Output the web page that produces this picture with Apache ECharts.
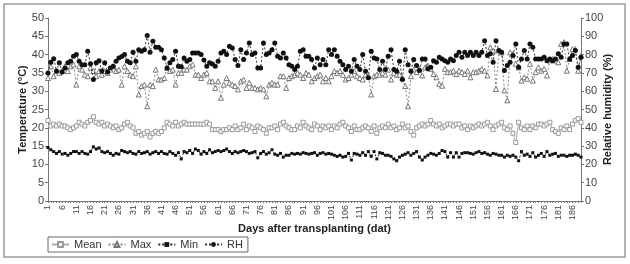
<!DOCTYPE html>
<html>
<head>
<meta charset="utf-8">
<script src="https://cdn.jsdelivr.net/npm/echarts@6/dist/echarts.min.js"></script>
<style>
    html, body { margin: 0; padding: 0; background: #fff; }
    #chart { width: 630px; height: 264px; }
</style>
</head>
<body>
<div id="chart"></div>
<script>
// days after transplanting
const days = Array.from({ length: 189 }, (_, i) => String(i + 1));

// mean temperature (°C)
const meanTemp = [
    22, 20.5, 21, 20.5, 21, 20.5, 20.5, 20, 19.5, 20,
    20.5, 21.5, 21, 20.5, 21.5, 22, 23, 21.5, 21, 21.5,
    20.5, 21, 20.5, 20, 20.5, 19.5, 20, 21, 21.5, 20.5,
    20, 18.5, 19, 18, 18.5, 19, 17.5, 18.5, 19, 18.5,
    19, 20, 21.5, 21, 20.5, 21.5, 20.5, 21, 21.5, 21,
    21, 21, 21, 21, 21, 21, 21.5, 21, 19.5, 19.5,
    19.5, 19, 19.5, 19.5, 20, 19.5, 20.5, 19.5, 20, 21,
    19.5, 20.5, 20, 19, 20.5, 20, 19.5, 18.5, 20, 20,
    20.5, 19.5, 21, 21.5, 20.5, 20, 19.5, 19.5, 20.5, 20,
    21.5, 20.5, 20, 19.5, 21, 20.5, 19.5, 20.5, 20, 20.5,
    19.5, 20.5, 20, 21, 21.5, 20.5, 20, 19, 20.5, 19.5,
    19.5, 20, 20.5, 20, 19, 20.5, 18.5, 20, 20.5, 20,
    21, 20, 20.5, 19.5, 20, 21, 20, 20.5, 19, 18,
    20, 20.5, 21, 20.5, 21, 22, 21, 20.5, 21, 20,
    20.5, 21, 21, 20.5, 21, 21, 20, 20.5, 19.5, 20.5,
    20, 20.5, 21, 20.5, 21, 21.5, 20.5, 19.5, 20.5, 21,
    21.5, 20, 19.5, 20.5, 18.5, 16, 21.5, 20, 19.5, 20.5,
    19.5, 20.5, 20, 21, 21, 20.5, 21, 21.5, 19.5, 19,
    18.5, 20, 19.5, 20.5, 19.5, 21, 22, 22.5, 21.5
];

// maximum temperature (°C)
const maxTemp = [
    33.6, 36.8, 34.1, 35.5, 35, 35.5, 36.8, 35.5, 36.8, 37.3,
    31.8, 36.8, 35.9, 34.5, 34.1, 36.4, 35.5, 34.1, 35.5, 34.5,
    35.5, 35, 35.9, 36.8, 35.5, 35.9, 31.8, 36.8, 35.5, 34.5,
    34.1, 36.8, 29.1, 31.4, 31.8, 25.9, 31.8, 31.4, 35.9, 33.2,
    33.2, 33.6, 36.4, 35.5, 35.9, 31.8, 35, 35, 35.9, 35.9,
    36.8, 37.3, 34.5, 34.5, 33.6, 34.5, 35, 32.7, 32.7, 30.9,
    32.7, 28.2, 31.8, 33.6, 32.3, 31.8, 31.4, 30.5, 32.7, 33.2,
    30.9, 32.3, 30.9, 30.9, 30.5, 30.9, 30.5, 28.6, 31.8, 32.3,
    31.8, 31.8, 34.1, 34.1, 30.9, 33.6, 34.1, 34.5, 35, 34.5,
    33.6, 35, 34.5, 32.7, 33.6, 34.1, 34.5, 32.7, 33.6, 32.7,
    34.1, 35.5, 35, 35.5, 34.5, 33.2, 33.6, 34.5, 35.5, 34.1,
    33.6, 33.2, 34.5, 34.1, 29.1, 34.1, 34.5, 34.5, 35, 34.5,
    35.9, 33.2, 35, 34.5, 34.5, 33.6, 31.4, 25.9, 34.1, 35.9,
    35.2, 36.1, 34.3, 36.5, 37, 36.1, 34.7, 33.8, 32, 31.5,
    36.1, 35.2, 35.2, 35.6, 34.7, 35.6, 35.2, 34.7, 35.6, 33.8,
    35.2, 35.2, 35.6, 36.1, 35.6, 34.3, 42, 41.1, 30.6, 41.1,
    40.6, 30.2, 27.5, 40.6, 40.2, 37.5, 36.5, 32.9, 33.8, 33.4,
    37.5, 32.9, 35.2, 36.5, 35.6, 36.1, 34.3, 38.4, 38.8, 38.4,
    37.9, 42.9, 43.4, 35.6, 38.8, 41.5, 41.5, 35.6, 39.7
];

// minimum temperature (°C)
const minTemp = [
    14.6, 14, 13.5, 13, 13.5, 12.8, 13, 12.5, 13, 13.5,
    13.5, 13, 13.5, 13, 12.8, 13.5, 14.8, 14.2, 14.5, 13.5,
    13.2, 13.5, 13, 12.5, 13, 12.8, 13.8, 13.5, 13.2, 13.5,
    13, 12.8, 13.5, 13, 13.2, 13.5, 12.8, 13.2, 13.5, 13,
    13.5, 13, 12.8, 13.5, 13, 12.5, 13.2, 11.5, 13.5, 13.2,
    13.8, 13, 14.2, 13.8, 12.8, 13.5, 13, 14, 13.2, 13.5,
    13.8, 13.5, 13.8, 14.2, 13.5, 13, 13.5, 13.2, 13.5, 13.8,
    13.5, 13, 13.2, 13.5, 11.8, 13, 13.5, 12.8, 13.2, 14,
    12.8, 12.5, 13, 12, 12.5, 12.5, 13, 12.8, 13, 12.8,
    13.2, 13, 12.8, 13, 13.2, 12.5, 13, 13.2, 12.8, 13,
    12.8, 12.5, 12.2, 12.5, 12, 12.2, 13, 11.2, 13, 12.8,
    12.5, 13.2, 12.5, 13.5, 12.2, 13.5, 11.5, 13.2, 13, 12.5,
    12.5, 12.2, 11.5, 11, 12, 12.5, 12.8, 13.2, 12.5, 13,
    13.5, 12, 11.2, 12, 12.5, 13, 12.8, 12.5, 13, 13.8,
    13.5, 12, 13.2, 12, 13.2, 12, 13, 13.2, 13.2, 13,
    12.8, 13.2, 13.5, 13, 13.2, 12.8, 12.5, 13, 12.8, 12.5,
    12.5, 12, 12.5, 12.2, 12.5, 12, 11, 13.5, 12.5, 12.8,
    12.2, 13.2, 12, 12.5, 13, 12.2, 13.5, 12.5, 12.8, 13,
    12.2, 12.5, 12.5, 12.2, 12.5, 12.5, 12.8, 12.5, 12
];

// relative humidity (%)
const relHum = [
    70, 75.8, 77.8, 71, 75.5, 70.5, 72.7, 75.5, 76.4, 79.1,
    80, 76.4, 74.5, 74.5, 81.8, 75, 66.4, 75.5, 76.7, 71,
    75.5, 70.5, 72.7, 73.6, 76.4, 78.2, 79, 80, 76.4, 75.5,
    81.3, 76.4, 82.7, 81.8, 82.7, 90.4, 81.3, 87.3, 84, 84,
    82.7, 78.2, 72.7, 75.5, 77.3, 81.8, 73.6, 73.3, 78.2, 76.4,
    77.3, 80.9, 80.9, 80.9, 80, 77, 73.6, 75.5, 74.9, 73.6,
    76.4, 80.9, 81.8, 80, 84.5, 83.6, 77.3, 74, 82.7, 77.3,
    80.9, 86.4, 80, 80.9, 72.7, 72.7, 86.4, 80, 80.9, 82.7,
    86.4, 79.1, 78.2, 80.9, 78.2, 74.5, 73.6, 71.8, 73.6, 81.8,
    82.7, 79.1, 79.1, 77.3, 72.7, 78.2, 74.5, 77.3, 74.5, 82.7,
    80, 82.7, 79.1, 76.4, 74.5, 71.8, 73.6, 70.9, 77.3, 73.6,
    71.8, 80, 70.9, 67.3, 81.8, 78.2, 77.6, 71.8, 76.4, 71.8,
    79.1, 82.7, 71.8, 70.9, 76.4, 66.4, 82.7, 74.5, 70.9, 77.3,
    74, 71.3, 77.6, 77.6, 72.2, 73.1, 76.7, 75.8, 78.5, 77.6,
    76.7, 75.8, 77.6, 76.7, 79.5, 81.3, 78.5, 81.3, 79.5, 81.3,
    79.5, 81.3, 79.5, 81.3, 87.6, 79.5, 80.4, 75.8, 87.6, 82.2,
    81.3, 71.3, 74, 75.8, 79.5, 85.8, 73.1, 77.6, 82.2, 77.6,
    85.8, 84, 77.6, 77.6, 77.6, 78.5, 76.7, 77.6, 76.7, 77.6,
    80.4, 78.5, 85.8, 85.8, 77.6, 79.5, 82.2, 73.1, 78.5
];

const legendNames = ['Mean', 'Max', 'Min', 'RH'];

const font = '"Liberation Sans Narrow", "Arial Narrow", "Liberation Sans", sans-serif';
const chart = echarts.init(document.getElementById('chart'));

const option = {
    animation: false,
    textStyle: { fontFamily: font },
    graphic: [
        {
            // outer frame
            type: 'rect',
            shape: { x: 4, y: 4, width: 621, height: 253 },
            style: { fill: 'none', stroke: '#9a9a9a', lineWidth: 1.5 },
            silent: true
        }
    ],
    legend: {
        data: legendNames,
        left: 48,
        top: 237,
        orient: 'horizontal',
        itemWidth: 17,
        itemHeight: 6,
        itemGap: 6,
        padding: [2, 5, 2, 3],
        borderColor: '#666',
        borderWidth: 1,
        textStyle: { fontFamily: font, fontSize: 11, color: '#333' }
    },
    grid: {
        left: 48,
        right: 49,
        top: 18,
        bottom: 63
    },
    xAxis: {
        type: 'category',
        data: days,
        boundaryGap: false,
        name: 'Days after transplanting (dat)',
        nameLocation: 'middle',
        nameGap: 22,
        nameMoveOverlap: false,
        nameTextStyle: { fontFamily: font, fontWeight: 'bold', fontSize: 11, color: '#222' },
        axisLine: { lineStyle: { color: '#777', width: 1 } },
        axisTick: { interval: 0, length: 2, lineStyle: { color: '#777' } },
        axisLabel: {
            interval: 4,
            rotate: 90,
            fontSize: 9,
            color: '#444',
            margin: 4
        },
        splitLine: { show: false }
    },
    yAxis: [
        {
            type: 'value',
            min: 0,
            max: 50,
            interval: 5,
            name: 'Temperature (°C)',
            nameLocation: 'middle',
            nameGap: 20,
            nameMoveOverlap: false,
            nameTextStyle: { fontFamily: font, fontWeight: 'bold', fontSize: 11, color: '#222' },
            axisLine: { show: true, lineStyle: { color: '#777' } },
            axisTick: { show: true, length: 3, lineStyle: { color: '#777' } },
            axisLabel: { fontSize: 11, color: '#444', margin: 4 },
            splitLine: { show: false }
        },
        {
            type: 'value',
            min: 0,
            max: 100,
            interval: 10,
            name: 'Relative humidity (%)',
            nameLocation: 'middle',
            nameGap: 21,
            nameRotate: 90,
            nameMoveOverlap: false,
            nameTextStyle: { fontFamily: font, fontWeight: 'bold', fontSize: 11, color: '#222' },
            axisLine: { show: true, lineStyle: { color: '#777' } },
            axisTick: { show: true, length: 3, lineStyle: { color: '#777' } },
            axisLabel: { fontSize: 11, color: '#444', margin: 4 },
            splitLine: { show: false }
        }
    ],
    series: [
        {
            name: 'Mean',
            type: 'line',
            yAxisIndex: 0,
            data: meanTemp,
            symbol: 'rect',
            symbolSize: 4,
            showAllSymbol: true,
            itemStyle: { color: '#fff', borderColor: '#999', borderWidth: 1 },
            lineStyle: { color: '#aaa', width: 1 },
            z: 2
        },
        {
            name: 'Max',
            type: 'line',
            yAxisIndex: 0,
            data: maxTemp,
            symbol: 'triangle',
            symbolSize: 5,
            showAllSymbol: true,
            itemStyle: { color: '#fff', borderColor: '#777', borderWidth: 1 },
            lineStyle: { color: '#888', width: 1, type: [2, 2] },
            z: 3
        },
        {
            name: 'Min',
            type: 'line',
            yAxisIndex: 0,
            data: minTemp,
            symbol: 'rect',
            symbolSize: 3,
            showAllSymbol: true,
            itemStyle: { color: '#111', borderColor: '#111', borderWidth: 0 },
            lineStyle: { color: '#222', width: 1, type: [2, 2] },
            z: 3
        },
        {
            name: 'RH',
            type: 'line',
            yAxisIndex: 1,
            data: relHum,
            symbol: 'circle',
            symbolSize: 5,
            showAllSymbol: true,
            itemStyle: { color: '#111', borderColor: '#111', borderWidth: 0 },
            lineStyle: { color: '#333', width: 1, type: [2, 2] },
            z: 4
        }
    ]
};

chart.setOption(option);
</script>
</body>
</html>
